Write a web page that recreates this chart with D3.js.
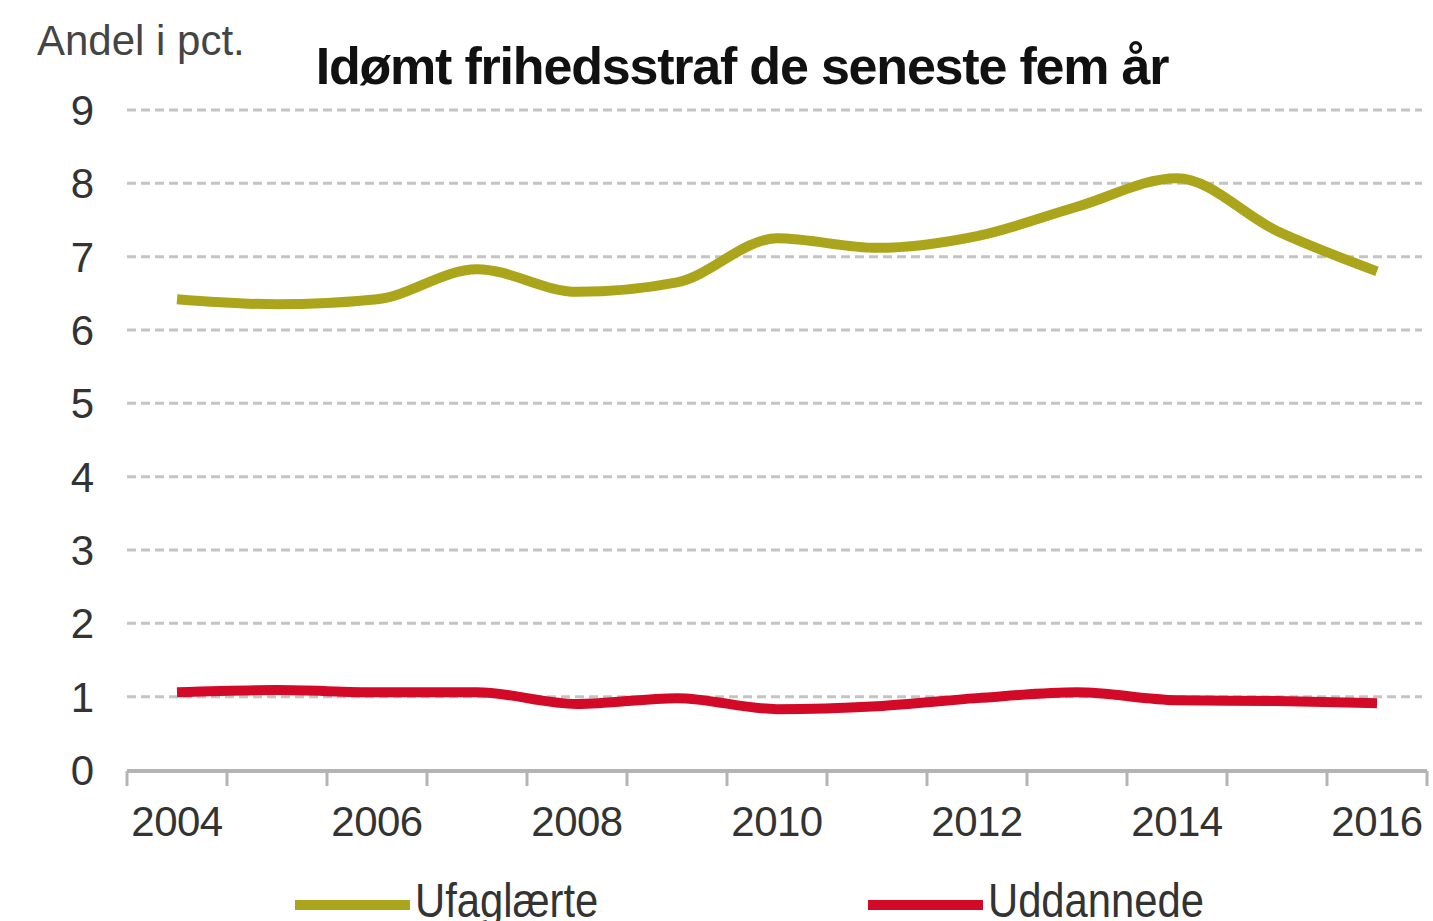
<!DOCTYPE html>
<html>
<head>
<meta charset="utf-8">
<script src="https://cdn.jsdelivr.net/npm/d3@7"></script>
<style>
  body { margin: 0; background: #fff; }
  svg { display: block; }
</style>
</head>
<body>
<div id="chart"></div>
<script>
var years = ["2004","2005","2006","2007","2008","2009","2010","2011","2012","2013","2014","2015","2016"];
var ufaglaerte = [6.42, 6.35, 6.42, 6.83, 6.52, 6.65, 7.25, 7.12, 7.28, 7.68, 8.07, 7.35, 6.80];
var uddannede = [1.06, 1.09, 1.06, 1.06, 0.90, 0.98, 0.83, 0.87, 0.98, 1.06, 0.95, 0.94, 0.91];
var yTicks = [0, 1, 2, 3, 4, 5, 6, 7, 8, 9];
var seriesNames = ["Ufaglærte", "Uddannede"];
var seriesColors = ["#aba51c", "#d20a28"];

var width = 1433, height = 921;
var font = "Liberation Sans, Arial, sans-serif";

var svg = d3.select("#chart")
    .append("svg")
    .attr("width", width)
    .attr("height", height);

var x = d3.scaleBand()
    .domain(years)
    .range([127, 1427]);

var y = d3.scaleLinear()
    .domain([0, 9])
    .range([770, 110]);

// gridlines
svg.selectAll(".grid")
    .data(yTicks.filter(function(d) { return d > 0; }))
    .enter()
    .append("line")
    .attr("x1", 127)
    .attr("x2", 1422)
    .attr("y1", function(d) { return y(d); })
    .attr("y2", function(d) { return y(d); })
    .attr("stroke", "#c4c4c4")
    .attr("stroke-width", 3)
    .attr("stroke-dasharray", "9,5");

// y labels
svg.selectAll(".ylab")
    .data(yTicks)
    .enter()
    .append("text")
    .attr("x", 94)
    .attr("y", function(d) { return y(d) + 15; })
    .attr("text-anchor", "end")
    .attr("font-family", font)
    .attr("font-size", 42)
    .attr("fill", "#333")
    .text(function(d) { return d; });

// x axis line + tick marks at category edges
svg.append("line")
    .attr("x1", 127).attr("x2", 1427)
    .attr("y1", 771).attr("y2", 771)
    .attr("stroke", "#b4b4b4")
    .attr("stroke-width", 4);

var edges = years.map(function(d) { return x(d); }).concat([x.range()[1]]);
svg.selectAll(".tick")
    .data(edges)
    .enter()
    .append("line")
    .attr("x1", function(d) { return d; })
    .attr("x2", function(d) { return d; })
    .attr("y1", 771)
    .attr("y2", 786)
    .attr("stroke", "#b4b4b4")
    .attr("stroke-width", 3);

svg.selectAll(".xlab")
    .data(years.filter(function(d, i) { return i % 2 === 0; }))
    .enter()
    .append("text")
    .attr("x", function(d) { return x(d) + x.bandwidth() / 2; })
    .attr("y", 836)
    .attr("text-anchor", "middle")
    .attr("font-family", font)
    .attr("font-size", 42)
    .attr("letter-spacing", -0.5)
    .attr("fill", "#333")
    .text(function(d) { return d; });

// lines
var line = d3.line()
    .x(function(d, i) { return x(years[i]) + x.bandwidth() / 2; })
    .y(function(d) { return y(d); })
    .curve(d3.curveMonotoneX);

[ufaglaerte, uddannede].forEach(function(s, k) {
    svg.append("path")
        .datum(s)
        .attr("d", line)
        .attr("fill", "none")
        .attr("stroke", seriesColors[k])
        .attr("stroke-width", 10)
        .attr("stroke-linejoin", "round");
});

// titles
svg.append("text")
    .attr("x", 37)
    .attr("y", 55)
    .attr("font-family", font)
    .attr("font-size", 42)
    .attr("letter-spacing", 0)
    .attr("fill", "#444")
    .text("Andel i pct.");

svg.append("text")
    .attr("x", 742)
    .attr("y", 84)
    .attr("text-anchor", "middle")
    .attr("font-family", font)
    .attr("font-weight", "bold")
    .attr("font-size", 52)
    .attr("letter-spacing", -1.2)
    .attr("fill", "#111")
    .text("Idømt frihedsstraf de seneste fem år");

// legend
var legendX = [295, 868];
seriesNames.forEach(function(n, k) {
    svg.append("line")
        .attr("x1", legendX[k]).attr("x2", legendX[k] + 115)
        .attr("y1", 905).attr("y2", 905)
        .attr("stroke", seriesColors[k])
        .attr("stroke-width", 10);
    svg.append("text")
        .attr("transform", "translate(" + (legendX[k] + 120) + ",917) scale(0.87,1)")
        .attr("font-family", font)
        .attr("font-size", 48)
        .attr("fill", "#333")
        .text(n);
});
</script>
</body>
</html>
